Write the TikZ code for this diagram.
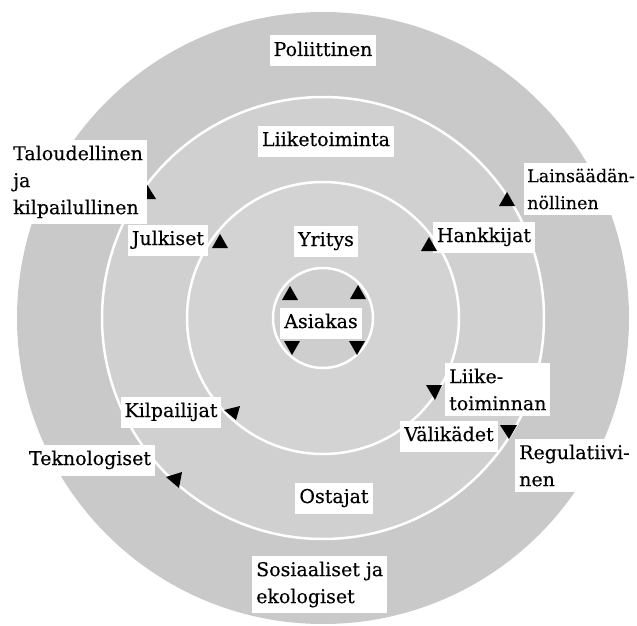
\documentclass[tikz,border=0pt]{standalone}
\usepackage{fontspec}
\setmainfont{DejaVu Serif}[FakeBold=0.3]
\definecolor{ringA}{RGB}{201,201,201}
\definecolor{ringB}{RGB}{208,208,208}
\definecolor{ringC}{RGB}{211,211,211}
\definecolor{ringD}{RGB}{206,206,206}
\newcommand{\lblfont}{\fontsize{19}{27}\selectfont}
\begin{document}
\begin{tikzpicture}[x=1pt,y=-1pt,
  lbl/.style={fill=white, font=\lblfont, inner xsep=4pt, inner ysep=6pt, text height=14.5pt, text depth=4.5pt},
  mlbl/.style={fill=white, font=\lblfont, inner xsep=4pt, inner ysep=5.5pt, align=left, anchor=north west},
  trimark/.style={fill=black},
  ringline/.style={draw=white, line width=2.5pt}]
\useasboundingbox (0,0) rectangle (637,626);
\coordinate (c) at (323,318);
% rings
\fill[ringA] (c) circle[radius=306];
\fill[ringB] (c) circle[radius=221];
\fill[ringC] (c) circle[radius=136];
\fill[ringD] (c) circle[radius=50];
\draw[ringline] (c) circle[radius=221];
\draw[ringline] (c) circle[radius=136];
\draw[ringline] (c) circle[radius=50];
% triangles
\fill[trimark] (146,183) -- (156,199) -- (140,199) -- cycle;
\fill[trimark] (220,234) -- (228,248) -- (212,248) -- cycle;
\fill[trimark] (290,286) -- (298,300) -- (282,300) -- cycle;
\fill[trimark] (358,285) -- (366,299) -- (350,299) -- cycle;
\fill[trimark] (284,341) -- (300,341) -- (292,355) -- cycle;
\fill[trimark] (349,341) -- (365,341) -- (357,355) -- cycle;
\fill[trimark] (507,192) -- (515,206) -- (499,206) -- cycle;
\fill[trimark] (224,410) -- (240,406) -- (236,420) -- cycle;
\fill[trimark] (166,477) -- (182,472) -- (179,488) -- cycle;
\fill[trimark] (426,385) -- (442,385) -- (435,400) -- cycle;
\fill[trimark] (500,425) -- (517,425) -- (509,439) -- cycle;
% labels
\node[lbl] (pol) at (323,51) {Poliittinen};
\node[lbl] (lii) at (326,141) {Liiketoiminta};
\node[lbl] (jul) at (168,240) {Julkiset};
\node[lbl] (yri) at (326,241) {Yritys};
\node[lbl] (han) at (484,237) {Hankkijat};
\node[lbl] (asi) at (321,323) {Asiakas};
\node[lbl] (kil) at (171,412) {Kilpailijat};
\node[lbl] (tek) at (90,460) {Teknologiset};
\node[lbl] (ost) at (334,498) {Ostajat};
\node[lbl] (val) at (449,436) {Välikädet};
\node[mlbl] (tal) at (9,140) {Taloudellinen\\ja\\kilpailullinen};
\node[mlbl, inner xsep=3pt, font=\fontsize{17.5}{27}\selectfont] (lai) at (524,163) {Lainsäädän-\\nöllinen};
\node[mlbl] (lto) at (445,363) {Liike-\\toiminnan};
\node[mlbl] (sos) at (252,556) {Sosiaaliset ja\\ekologiset};
\node[mlbl] (reg) at (515,439) {Regulatiivi-\\nen};
\fill[trimark] (429,237) -- (437,251) -- (421,251) -- cycle;
\end{tikzpicture}
\end{document}
